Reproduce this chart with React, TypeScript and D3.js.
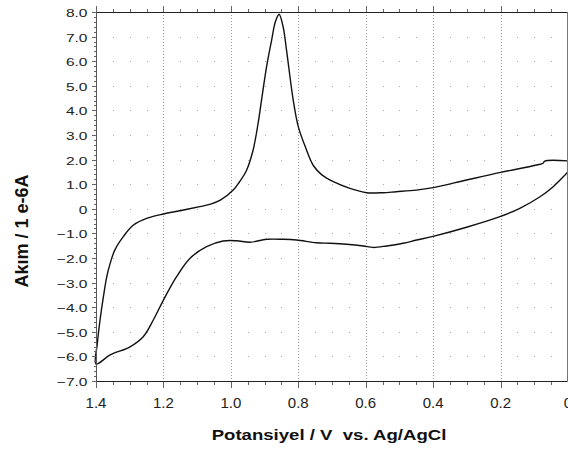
import React from 'react';
import * as d3 from 'd3';

// upper branch, read from right (0 V) to left (1.4 V)
const upperV = [0.0, 0.069, 0.074, 0.093, 0.2, 0.301, 0.4, 0.45, 0.51, 0.549, 0.597, 0.647, 0.696, 0.73, 0.755, 0.78, 0.8, 0.815, 0.835, 0.845, 0.857, 0.868, 0.879, 0.894, 0.909, 0.919, 0.934, 0.953, 0.975, 0.993, 1.03, 1.06, 1.092, 1.151, 1.2, 1.25, 1.289, 1.319, 1.344, 1.358, 1.368, 1.378, 1.388, 1.396, 1.4];
const upperI = [1.95, 1.94, 1.85, 1.78, 1.48, 1.17, 0.86, 0.76, 0.695, 0.655, 0.655, 0.83, 1.1, 1.38, 1.75, 2.55, 3.34, 4.42, 6.46, 7.4, 7.91, 7.6, 6.86, 5.78, 4.42, 3.49, 2.39, 1.58, 1.08, 0.76, 0.36, 0.19, 0.09, -0.08, -0.21, -0.39, -0.66, -1.13, -1.67, -2.22, -2.76, -3.57, -4.52, -5.47, -6.31];

// lower branch, from 1.4 V back to 0 V
const lowerV = [1.4, 1.358, 1.299, 1.26, 1.23, 1.2, 1.161, 1.121, 1.072, 1.023, 0.983, 0.943, 0.894, 0.845, 0.805, 0.746, 0.706, 0.657, 0.607, 0.578, 0.538, 0.489, 0.449, 0.4, 0.301, 0.202, 0.143, 0.083, 0.044, 0.014, 0.0];
const lowerI = [-6.31, -5.94, -5.61, -5.2, -4.52, -3.71, -2.76, -2.01, -1.54, -1.31, -1.3, -1.36, -1.24, -1.24, -1.27, -1.38, -1.4, -1.44, -1.51, -1.57, -1.51, -1.4, -1.27, -1.12, -0.75, -0.32, 0.02, 0.49, 0.9, 1.3, 1.51];

const xMajor = [1.4, 1.2, 1.0, 0.8, 0.6, 0.4, 0.2, 0.0];
const yMajor = [8, 7, 6, 5, 4, 3, 2, 1, 0, -1, -2, -3, -4, -5, -6, -7];

const xTitle = 'Potansiyel / V  vs. Ag/AgCl';
const yTitle = 'Akım / 1 e-6A';

const W = 568;
const H = 452;

export default function App() {
  const left = 96, right = 568, top = 12, bottom = 381;

  const x = d3.scaleLinear().domain([1.4, 0]).range([left, right]);
  const y = d3.scaleLinear().domain([-7, 8]).range([bottom, top]);

  // minor ticks: 0.05 V on x, 0.2 on y
  const xMinor = d3.range(0, 29).map(i => +(i * 0.05).toFixed(2));
  const yMinor = d3.range(0, 76).map(i => +(-7 + i * 0.2).toFixed(1));

  const pts: [number, number][] = [];
  upperV.forEach((v, i) => pts.push([v, upperI[i]]));
  lowerV.forEach((v, i) => { if (i > 0) pts.push([v, lowerI[i]]); });

  const line = d3.line<[number, number]>()
    .x(d => x(d[0]))
    .y(d => y(d[1]))
    .curve(d3.curveCatmullRom.alpha(0.5));

  const isMajorX = (v: number) => xMajor.some(m => Math.abs(m - v) < 1e-6);
  const fmt = (v: number) => (v === 0 ? '0' : d3.format('.1f')(v));

  return (
    <svg width={W} height={H} style={{ position: 'absolute', left: 0, top: 0, background: '#fff' }}
      fontFamily="'Liberation Sans', Arial, sans-serif">
      <rect x={0} y={0} width={W} height={H} fill="#fff" />

      {/* grid: dotted verticals at major x */}
      {xMajor.filter(v => v !== 1.4 && v !== 0).map((v, i) => (
        <line key={'gv' + i} x1={Math.round(x(v)) + 0.5} x2={Math.round(x(v)) + 0.5} y1={top} y2={bottom}
          stroke="#999" strokeDasharray="1,2" />
      ))}
      {/* grid: dots along each integer y */}
      {yMajor.filter(v => v !== 8 && v !== -7).map(v =>
        xMinor.filter(m => !isMajorX(m)).map((m, j) => (
          <rect key={'gd' + v + '_' + j} x={Math.round(x(m))} y={Math.round(y(v))} width={1} height={1} fill="#aaa" />
        ))
      )}

      {/* curve */}
      <path d={line(pts) || ''} fill="none" stroke="#111" strokeWidth={1.4} strokeLinejoin="round" />

      {/* frame */}
      <line x1={left} x2={right} y1={top + 0.5} y2={top + 0.5} stroke="#222" />
      <line x1={left} x2={right} y1={bottom + 0.5} y2={bottom + 0.5} stroke="#222" />
      <line x1={left + 0.5} x2={left + 0.5} y1={top} y2={bottom + 1} stroke="#555" />
      <line x1={right - 0.5} x2={right - 0.5} y1={top} y2={bottom + 1} stroke="#777" />

      {/* x ticks, top and bottom */}
      {xMinor.map((v, i) => {
        const px = Math.round(x(v)) + 0.5;
        const len = isMajorX(v) ? 6 : 3;
        return (
          <g key={'xt' + i} stroke="#666">
            <line x1={px} x2={px} y1={top} y2={top - len} />
            <line x1={px} x2={px} y1={bottom + 1} y2={bottom + 1 + len} />
          </g>
        );
      })}

      {/* y ticks */}
      {yMinor.map((v, i) => {
        const py = Math.round(y(v)) + 0.5;
        const major = Math.abs(v - Math.round(v)) < 1e-6;
        return <line key={'yt' + i} x1={left} x2={left - (major ? 4 : 2)} y1={py} y2={py} stroke="#666" />;
      })}

      {/* y tick labels */}
      {yMajor.map(v => (
        <text key={'yl' + v} transform={`translate(87.5,${y(v) + 5}) scale(1.35,1)`}
          textAnchor="end" fontSize={11.5} fill="#222">{fmt(v)}</text>
      ))}

      {/* x tick labels */}
      {xMajor.map(v => (
        <text key={'xl' + v} x={x(v)} y={408} textAnchor="middle" fontSize={15} fill="#222">{fmt(v)}</text>
      ))}

      {/* axis titles */}
      <text transform={`translate(${(left + right) / 2 - 3},440) scale(1.24,1)`} textAnchor="middle"
        fontSize={15} fontWeight="bold" fill="#111" style={{ whiteSpace: 'pre' }}>{xTitle}</text>
      <text transform="translate(28,231) rotate(-90)" textAnchor="middle"
        fontSize={18} fontWeight="bold" fill="#111">{yTitle}</text>
    </svg>
  );
}
